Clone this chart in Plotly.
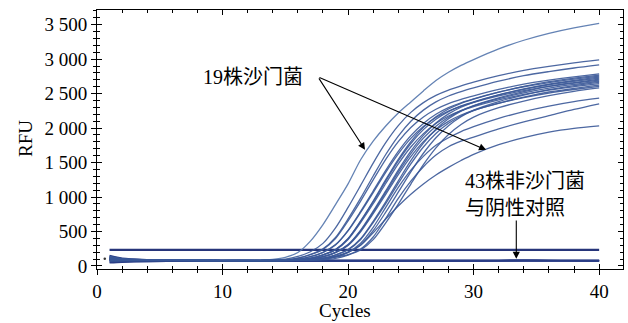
import plotly.graph_objects as go

# ---- data (RFU vs cycle) ----
cycles = [1, 2, 4, 7, 10, 13, 14, 15, 16, 17, 18, 19, 20, 21, 22, 23, 24, 25, 26, 27, 28, 29, 30, 32, 34, 36, 38, 40]

pos_01 = [100, 90, 82, 80, 78, 82, 95, 125, 195, 360, 600, 890, 1190, 1540, 1810, 2030, 2220, 2380, 2540, 2690, 2810, 2910, 2995, 3150, 3275, 3375, 3455, 3520]
pos_02 = [130, 98, 85, 80, 79, 80, 83, 99, 138, 206, 327, 552, 849, 1168, 1492, 1788, 2035, 2228, 2370, 2475, 2552, 2612, 2667, 2760, 2837, 2895, 2946, 2990]
pos_03 = [85, 80, 78, 77, 78, 79, 80, 88, 112, 166, 247, 413, 682, 983, 1305, 1617, 1885, 2100, 2261, 2380, 2466, 2530, 2584, 2681, 2761, 2820, 2872, 2917]
pos_04 = [110, 92, 84, 80, 78, 79, 80, 87, 111, 162, 239, 398, 654, 941, 1249, 1546, 1803, 2008, 2162, 2274, 2356, 2418, 2469, 2561, 2638, 2695, 2744, 2787]
pos_05 = [95, 88, 82, 79, 78, 78, 79, 80, 87, 111, 162, 239, 398, 655, 942, 1251, 1548, 1805, 2010, 2164, 2277, 2359, 2421, 2523, 2605, 2673, 2724, 2770]
pos_06 = [70, 75, 79, 80, 79, 78, 80, 83, 97, 134, 197, 309, 517, 792, 1087, 1387, 1662, 1890, 2068, 2201, 2297, 2368, 2424, 2521, 2600, 2661, 2711, 2755]
pos_07 = [125, 100, 86, 81, 79, 78, 78, 80, 83, 97, 134, 197, 309, 518, 794, 1089, 1390, 1665, 1895, 2073, 2206, 2303, 2374, 2481, 2568, 2639, 2693, 2740]
pos_08 = [100, 90, 83, 80, 78, 78, 79, 80, 87, 110, 161, 236, 393, 645, 928, 1231, 1524, 1776, 1978, 2129, 2240, 2321, 2382, 2483, 2563, 2629, 2680, 2725]
pos_09 = [80, 78, 78, 78, 77, 78, 78, 79, 80, 87, 110, 161, 237, 394, 647, 930, 1234, 1528, 1781, 1983, 2135, 2246, 2327, 2439, 2530, 2606, 2661, 2710]
pos_10 = [140, 105, 88, 82, 79, 78, 80, 83, 97, 133, 194, 304, 508, 776, 1064, 1358, 1626, 1850, 2024, 2153, 2248, 2317, 2372, 2466, 2544, 2604, 2652, 2695]
pos_11 = [90, 85, 81, 79, 78, 78, 78, 80, 83, 97, 133, 195, 304, 509, 778, 1067, 1361, 1630, 1854, 2028, 2158, 2253, 2322, 2427, 2512, 2581, 2634, 2680]
pos_12 = [105, 90, 82, 79, 78, 78, 78, 78, 80, 83, 97, 133, 195, 305, 510, 780, 1070, 1365, 1635, 1860, 2035, 2165, 2260, 2385, 2480, 2558, 2618, 2665]
pos_13 = [75, 78, 80, 79, 78, 78, 79, 80, 87, 109, 158, 231, 383, 628, 902, 1196, 1480, 1725, 1920, 2067, 2175, 2253, 2312, 2410, 2488, 2552, 2601, 2645]
pos_14 = [115, 95, 84, 80, 78, 78, 78, 79, 80, 87, 109, 158, 232, 384, 629, 903, 1197, 1481, 1726, 1922, 2069, 2176, 2255, 2362, 2451, 2524, 2578, 2625]
pos_15 = [95, 86, 81, 79, 78, 78, 78, 80, 83, 96, 131, 191, 298, 496, 757, 1038, 1324, 1585, 1803, 1972, 2098, 2190, 2258, 2359, 2441, 2509, 2560, 2605]
pos_16 = [130, 100, 86, 80, 78, 78, 78, 78, 79, 80, 87, 109, 158, 231, 381, 624, 896, 1188, 1470, 1713, 1907, 2053, 2160, 2296, 2393, 2471, 2534, 2583]
pos_17 = [85, 82, 80, 78, 78, 78, 78, 79, 82, 92, 112, 140, 200, 330, 560, 850, 1140, 1390, 1590, 1750, 1860, 1950, 2020, 2140, 2240, 2320, 2385, 2434]
pos_18 = [110, 92, 83, 79, 78, 78, 78, 78, 80, 88, 105, 128, 165, 245, 420, 690, 980, 1230, 1440, 1610, 1730, 1810, 1870, 1990, 2090, 2180, 2270, 2351]
pos_19 = [100, 88, 82, 79, 78, 78, 78, 79, 80, 84, 97, 130, 195, 300, 480, 680, 870, 1040, 1190, 1320, 1430, 1530, 1620, 1760, 1860, 1940, 1995, 2032]

neg_01 = [150, 110, 90, 84, 82, 81, 81, 81, 81, 81, 81, 81, 81, 81, 81, 81, 81, 81, 81, 81, 81, 81, 81, 82, 85, 83, 81, 81]
neg_02 = [60, 62, 66, 70, 72, 73, 73, 73, 73, 73, 73, 73, 73, 73, 73, 73, 73, 73, 73, 73, 73, 73, 73, 74, 76, 75, 74, 73]
neg_03 = [120, 95, 82, 78, 76, 76, 76, 76, 76, 76, 76, 76, 76, 76, 76, 76, 76, 76, 76, 76, 76, 76, 76, 77, 79, 78, 77, 76]
neg_04 = [90, 85, 80, 77, 75, 74, 74, 74, 74, 74, 74, 74, 74, 74, 74, 74, 74, 74, 74, 74, 74, 74, 74, 75, 78, 76, 75, 74]
neg_05 = [45, 55, 65, 68, 70, 70, 70, 70, 70, 70, 70, 70, 70, 70, 70, 70, 70, 70, 70, 70, 70, 70, 70, 71, 73, 72, 71, 70]

threshold_cycles = [1, 40]
threshold_rfu = [232, 232]

dot_cycle = [0.62]
dot_rfu = [102]

x_tickvals = [0, 10, 20, 30, 40]
y_tickvals = [0, 500, 1000, 1500, 2000, 2500, 3000, 3500]
y_ticktext = ["0", "500", "1 000", "1 500", "2 000", "2 500", "3 000", "3 500"]

label_pos = "19株沙门菌"
label_neg_1 = "43株非沙门菌"
label_neg_2 = "与阴性对照"

# ---- figure ----
SERIF = "Liberation Serif"
CJK = "Liberation Serif, Noto Sans CJK SC"
XR = [0, 41.9]
YR = [-45, 3714]

fig = go.Figure()

neg_color = "#2b3e86"
for ys in [neg_01, neg_02, neg_03, neg_04, neg_05]:
    fig.add_trace(go.Scatter(x=cycles, y=ys, mode="lines",
                             line=dict(color=neg_color, width=1.6, shape="spline", smoothing=0.8),
                             hoverinfo="skip", showlegend=False))

fig.add_trace(go.Scatter(x=threshold_cycles, y=threshold_rfu, mode="lines",
                         line=dict(color="#27357a", width=2.2), hoverinfo="skip", showlegend=False))

positives = [pos_01, pos_02, pos_03, pos_04, pos_05, pos_06, pos_07, pos_08, pos_09, pos_10,
             pos_11, pos_12, pos_13, pos_14, pos_15, pos_16, pos_17, pos_18, pos_19]
for i, ys in enumerate(positives):
    fig.add_trace(go.Scatter(x=cycles, y=ys, mode="lines",
                             line=dict(color="#5476ad" if i == 0 else "#3a5898", width=1.3,
                                       shape="spline", smoothing=0.8),
                             opacity=0.9, hoverinfo="skip", showlegend=False))

fig.add_trace(go.Scatter(x=dot_cycle, y=dot_rfu, mode="markers",
                         marker=dict(color="#333333", size=2.5), hoverinfo="skip", showlegend=False))

# invisible trace to materialise the overlay axes (outer halves of the crossing ticks + labels)
fig.add_trace(go.Scatter(x=[XR[0]], y=[YR[0]], xaxis="x2", yaxis="y2", mode="markers",
                         marker=dict(opacity=0), hoverinfo="skip", showlegend=False))

tick_font = dict(family=SERIF, size=19, color="black")

fig.update_layout(
    width=628, height=323,
    margin=dict(l=97, r=5, t=10, b=54),
    paper_bgcolor="white", plot_bgcolor="white",
    showlegend=False,
    font=dict(family=SERIF, size=19, color="black"),
    xaxis=dict(range=XR, showgrid=False, zeroline=False, showline=True, linecolor="black",
               linewidth=1.2, mirror="ticks", ticks="inside", ticklen=5, tickwidth=1.1,
               tickcolor="black", tickvals=x_tickvals, showticklabels=False,
               minor=dict(ticks="inside", dtick=2, tick0=0, ticklen=3, tickwidth=1, tickcolor="black")),
    yaxis=dict(range=YR, showgrid=False, zeroline=False, showline=True, linecolor="black",
               linewidth=1.2, mirror="ticks", ticks="inside", ticklen=5, tickwidth=1.1,
               tickcolor="black", tickvals=y_tickvals, showticklabels=False,
               minor=dict(ticks="inside", dtick=100, tick0=0, ticklen=3, tickwidth=1, tickcolor="black")),
    xaxis2=dict(range=XR, overlaying="x", anchor="y2", side="bottom", showgrid=False, zeroline=False,
                showline=False, ticks="outside", ticklen=5, tickwidth=1.1, tickcolor="black",
                tickvals=x_tickvals, tickfont=tick_font,
                minor=dict(ticks="outside", dtick=2, tick0=0, ticklen=3, tickwidth=1, tickcolor="black")),
    yaxis2=dict(range=YR, overlaying="y", anchor="x2", side="left", showgrid=False, zeroline=False,
                showline=False, ticks="outside", ticklen=5, tickwidth=1.1, tickcolor="black",
                tickvals=y_tickvals, ticktext=y_ticktext, tickfont=tick_font,
                minor=dict(ticks="outside", dtick=100, tick0=0, ticklen=3, tickwidth=1, tickcolor="black")),
)

arrow_common = dict(xref="x", yref="y", axref="x", ayref="y", text="", showarrow=True,
                    arrowhead=2, arrowsize=1.3, arrowwidth=1.1, arrowcolor="black",
                    standoff=0, startstandoff=0)
fig.add_annotation(x=21.35, y=1684, ax=17.6, ay=2743, **arrow_common)
fig.add_annotation(x=31.0, y=1684, ax=17.6, ay=2743, **arrow_common)
fig.add_annotation(x=33.4, y=102, ax=33.4, ay=682, **arrow_common)

fig.add_annotation(x=12.4, y=2743, xref="x", yref="y", text=label_pos, showarrow=False,
                   font=dict(family=CJK, size=20, color="black"), xanchor="center", yanchor="middle")
fig.add_annotation(x=29.15, y=1234, xref="x", yref="y", text=label_neg_1, showarrow=False,
                   font=dict(family=CJK, size=20, color="black"), xanchor="left", yanchor="middle")
fig.add_annotation(x=29.15, y=842, xref="x", yref="y", text=label_neg_2, showarrow=False,
                   font=dict(family=CJK, size=20, color="black"), xanchor="left", yanchor="middle")

fig.add_annotation(x=(345 - 97) / 526, y=(269 - 310) / 259, xref="paper", yref="paper", text="Cycles",
                   showarrow=False, font=dict(family=SERIF, size=19, color="black"),
                   xanchor="center", yanchor="middle")
fig.add_annotation(x=(25 - 97) / 526, y=(269 - 139) / 259, xref="paper", yref="paper", text="RFU",
                   showarrow=False, textangle=-90, font=dict(family=SERIF, size=19, color="black"),
                   xanchor="center", yanchor="middle")

fig.write_html("out.html")
